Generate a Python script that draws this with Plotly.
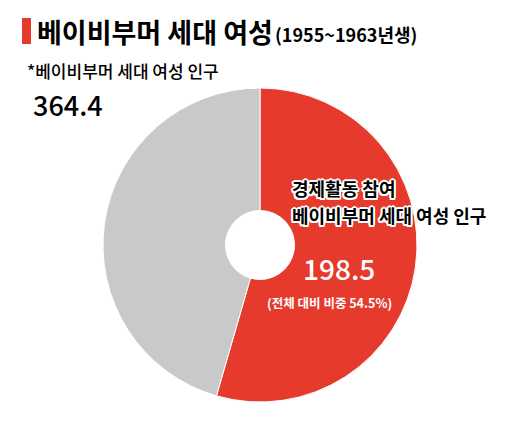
import plotly.graph_objects as go

# data (만 명)
labels = ["경제활동 참여", "비참여"]
values = [198.5, 165.9]
total = 364.4
share = 54.5
colors = ["#E63A2C", "#C9C9C9"]

KR = "Noto Sans CJK KR"
outline = ("white 2px 0 0, white -2px 0 0, white 0 2px 0, white 0 -2px 0, "
           "white 1.5px 1.5px 0, white -1.5px -1.5px 0, white 1.5px -1.5px 0, white -1.5px 1.5px 0")

# the page has an 8px body margin, so shift the figure back by that much
OFF = 8
W, H = 507 - OFF, 422 - OFF

def px(x):
    return (x - OFF) / W

def py(y):
    return 1 - (y - OFF) / H

fig = go.Figure(go.Pie(
    labels=labels,
    values=values,
    hole=0.22,
    sort=False,
    direction="clockwise",
    rotation=0,
    marker=dict(colors=colors, line=dict(color="white", width=1)),
    textinfo="none",
    hoverinfo="label+value",
    domain=dict(x=[px(103), px(417)], y=[py(402), py(88)]),
    showlegend=False,
))

annos = [
    dict(x=px(35), y=py(31), text="<b>베이비부머 세대 여성</b>", font=dict(family=KR, size=27, color="black")),
    dict(x=px(273), y=py(34), text="<b>(1955~1963년생)</b>", font=dict(family=KR, size=18, color="black")),
    dict(x=px(25), y=py(70), text="*베이비부머 세대 여성 인구", font=dict(family=KR, size=17, color="black", weight=500)),
    dict(x=px(31), y=py(104), text=f"{total}", font=dict(family=KR, size=27, color="black", weight=500)),
    dict(x=px(290), y=py(188), text="<b>경제활동 참여</b>", font=dict(family=KR, size=18, color="black", shadow=outline)),
    dict(x=px(290), y=py(215), text="<b>베이비부머 세대 여성 인구</b>", font=dict(family=KR, size=18, color="black", shadow=outline)),
    dict(x=px(339), y=py(268), text=f"{values[0]}", xanchor="center", font=dict(family=KR, size=28, color="white", weight=500)),
    dict(x=px(329), y=py(302), text=f"<b>(전체 대비 비중 {share}%)</b>", xanchor="center", font=dict(family=KR, size=12.5, color="white")),
]
for a in annos:
    a.setdefault("xanchor", "left")
    fig.add_annotation(xref="paper", yref="paper", yanchor="middle", showarrow=False, **a)

# red marker bar before title
fig.add_shape(type="rect", xref="paper", yref="paper",
              x0=px(22), x1=px(31), y0=py(44), y1=py(18),
              fillcolor="#E63A2C", line_width=0)

fig.update_layout(
    width=W, height=H,
    margin=dict(l=0, r=0, t=0, b=0),
    paper_bgcolor="white",
    plot_bgcolor="white",
)

fig.write_html("out.html")
